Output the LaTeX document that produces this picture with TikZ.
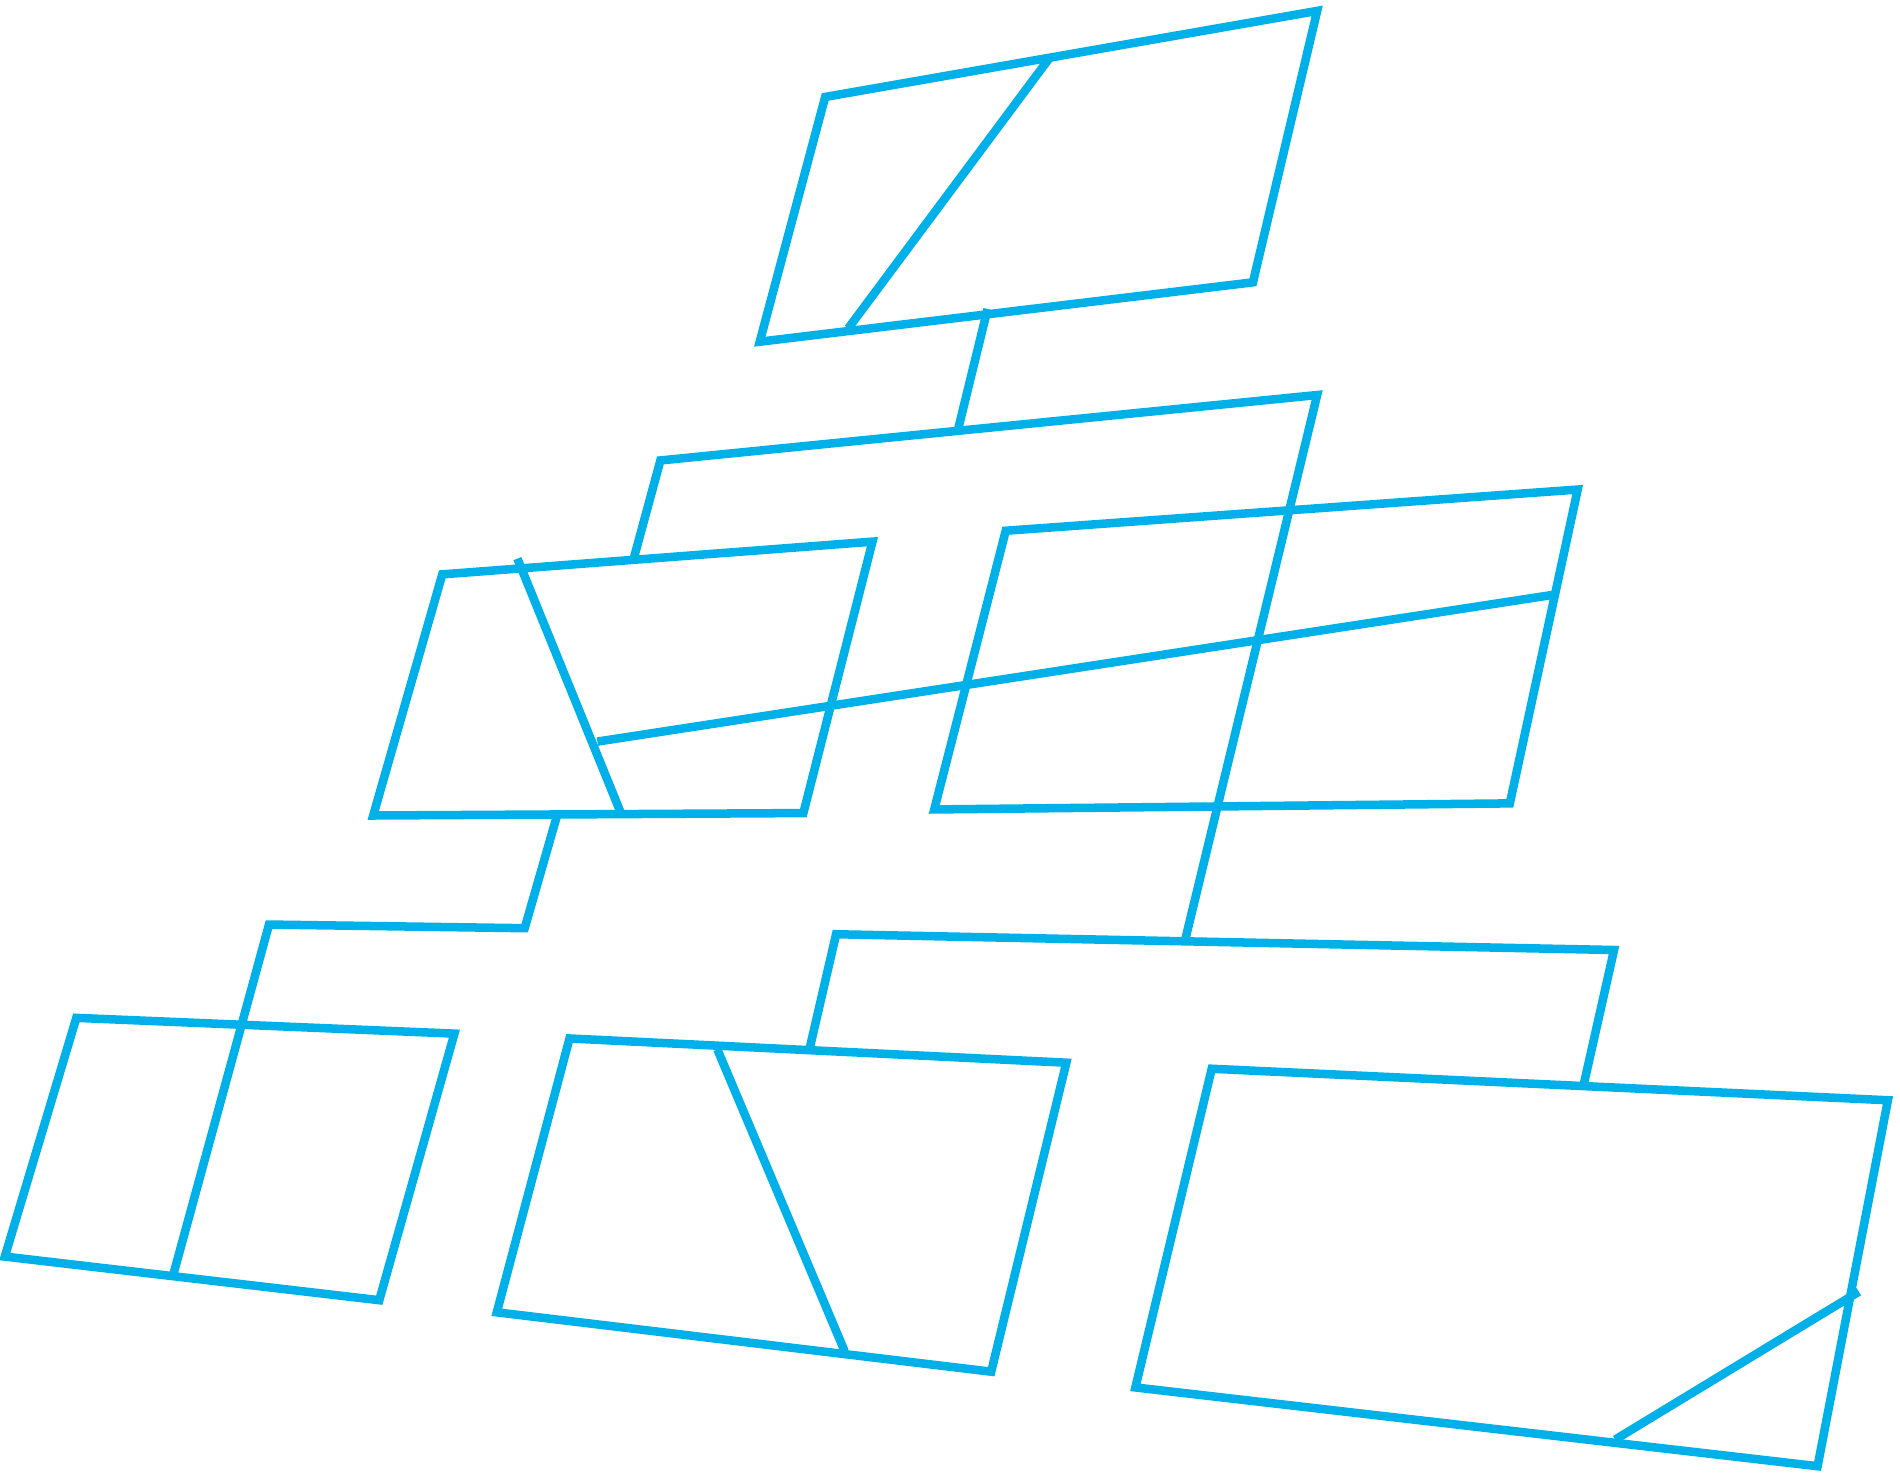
\documentclass[tikz,border=0pt]{standalone}
\usetikzlibrary{positioning}
\definecolor{lineblue}{RGB}{0,176,232}
\tikzset{
  panel/.style={draw=lineblue, line width=2pt, line join=miter},
  link/.style={draw=lineblue, line width=2pt},
}

\begin{document}
\begin{tikzpicture}[x=0.1mm, y=-0.1mm]
  \useasboundingbox (0,0) rectangle (1568,1217);

  % Top panel
  \coordinate (topA) at (681,80);
  \coordinate (topB) at (1087,9);
  \coordinate (topC) at (1034,233);
  \coordinate (topD) at (627,282);
  \coordinate (topcutA) at (866,48);
  \coordinate (topcutB) at (700,271);
  \coordinate (topout) at (815,255);
  \draw[panel] (topA) -- (topB) -- (topC) -- (topD) -- cycle;
  \draw[link] (topcutA) -- (topcutB);

  % Upper bar with long stem
  \coordinate (barL) at (523,461);
  \coordinate (barLC) at (545,380);
  \coordinate (barRC) at (1087,326);
  \coordinate (barin) at (791,353);
  \coordinate (barend) at (978,776);
  \draw[link] (topout) -- (barin);
  \draw[link] (barL) -- (barLC) -- (barRC) -- (barend);

  % Middle left panel
  \coordinate (leftA) at (365,474);
  \coordinate (leftB) at (720,447);
  \coordinate (leftC) at (663,671);
  \coordinate (leftD) at (308,673);
  \coordinate (leftcutA) at (427,461);
  \coordinate (leftcutB) at (512,670);
  \coordinate (leftout) at (460,672);
  \draw[panel] (leftA) -- (leftB) -- (leftC) -- (leftD) -- cycle;
  \draw[link] (leftcutA) -- (leftcutB);

  % Middle right panel
  \coordinate (rightA) at (830,438);
  \coordinate (rightB) at (1302,404);
  \coordinate (rightC) at (1246,663);
  \coordinate (rightD) at (771,668);
  \draw[panel] (rightA) -- (rightB) -- (rightC) -- (rightD) -- cycle;

  % Long cross line
  \coordinate (crossL) at (493,612);
  \coordinate (crossR) at (1281,491);
  \draw[link] (crossL) -- (crossR);

  % Bottom left panel
  \coordinate (blA) at (63,840);
  \coordinate (blB) at (375,853);
  \coordinate (blC) at (313,1073);
  \coordinate (blD) at (4,1037);
  \coordinate (blcut) at (143,1052);
  \draw[panel] (blA) -- (blB) -- (blC) -- (blD) -- cycle;
  \draw[link] (leftout) -- (433,766) -- (222,763) -- (blcut);

  % Lower bar
  \coordinate (lowL) at (668,866);
  \coordinate (lowLC) at (690,771);
  \coordinate (lowRC) at (1332,784);
  \coordinate (lowR) at (1307,895);
  \draw[link] (lowL) -- (lowLC) -- (lowRC) -- (lowR);

  % Bottom middle panel
  \coordinate (bmA) at (470,857);
  \coordinate (bmB) at (880,877);
  \coordinate (bmC) at (818,1132);
  \coordinate (bmD) at (410,1083);
  \coordinate (bmcutA) at (592,866);
  \coordinate (bmcutB) at (697,1115);
  \draw[panel] (bmA) -- (bmB) -- (bmC) -- (bmD) -- cycle;
  \draw[link] (bmcutA) -- (bmcutB);

  % Bottom right panel
  \coordinate (brA) at (1000,882);
  \coordinate (brB) at (1558,908);
  \coordinate (brC) at (1500,1210);
  \coordinate (brD) at (937,1145);
  \coordinate (brcutA) at (1333,1188);
  \coordinate (brcutB) at (1534,1066);
  \draw[panel] (brA) -- (brB) -- (brC) -- (brD) -- cycle;
  \draw[link] (brcutA) -- (brcutB);
\end{tikzpicture}
\end{document}
